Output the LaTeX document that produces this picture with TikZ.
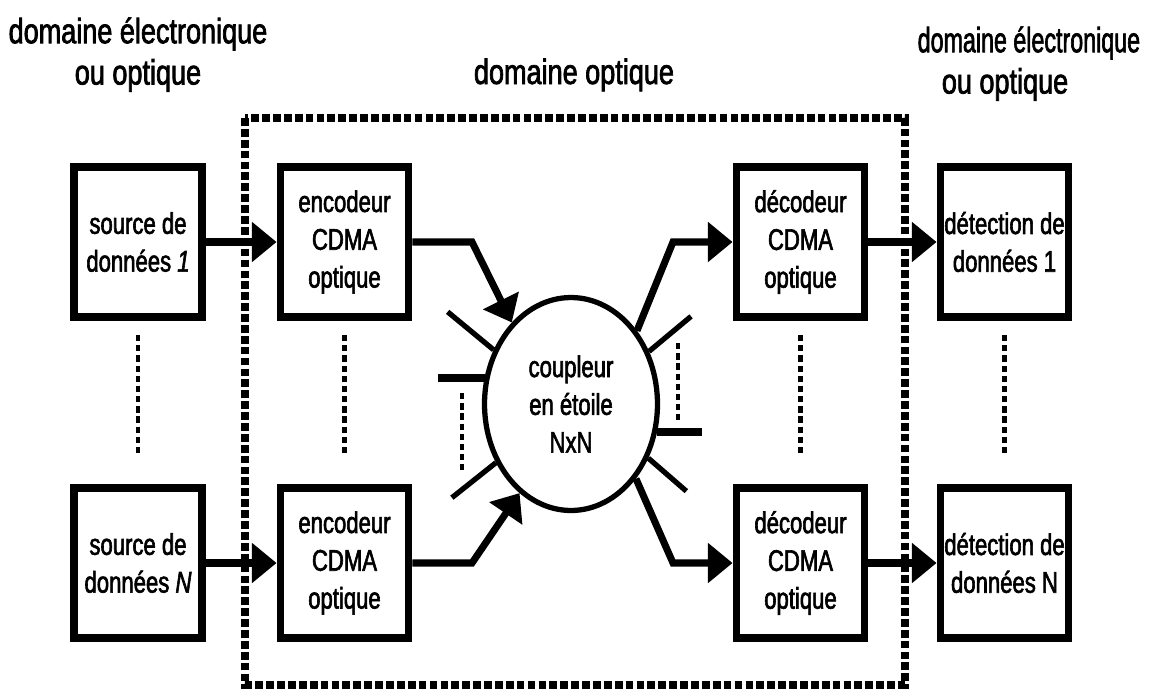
\documentclass[tikz,border=0pt]{standalone}
\usepackage{fontspec}
\usepackage{graphicx}
\setmainfont{Liberation Sans}[FakeStretch=0.74,FakeBold=2]
\newfontfamily\ttlfont{Liberation Sans}[FakeStretch=0.77,FakeBold=2]
\usetikzlibrary{arrows.meta,shapes.geometric}
\newcommand\bxfont{\fontsize{17pt}{21.5pt}\selectfont}
\newcommand\lblfont{\ttlfont\fontsize{20pt}{23.5pt}\selectfont}
\begin{document}
\begin{tikzpicture}[x=0.02cm,y=-0.02cm,
  blk/.style={draw,line width=4.5pt,minimum width=2.56cm,minimum height=3.0cm,inner sep=0pt,align=center,font=\bxfont},
  lbl/.style={align=center,font=\lblfont,inner sep=0pt},
  arr/.style={line width=4pt,line join=miter,-{Triangle[length=14pt,width=22pt]}},
  stubthin/.style={line width=3pt},
  stubthick/.style={line width=4.5pt},
  vdots/.style={line width=2.8pt,dash pattern=on 3.6pt off 2.2pt},
  optframe/.style={line width=5pt,dash pattern=on 4.4pt off 1.8pt}]
\useasboundingbox (0,0) rectangle (1154,691);

% labels
\node[lbl,anchor=north] (lL) at (138,17) {domaine électronique\\ou optique};
\node[lbl,anchor=base] (lM) at (574,84) {domaine optique};
\node[lbl,anchor=north] (lR) at (1017,26) {\hspace*{13.6pt}\scalebox{0.86}[1]{domaine électronique}\\ou optique\hspace*{13.6pt}};

% optical domain frame
\draw[optframe] (245,118) rectangle (905,685);

% blocks
\node[blk] (src1) at (138,242) {source de\\données \textit{1}};
\node[blk] (srcN) at (138,563) {source de\\données \textit{N}};
\node[blk] (enc1) at (344.5,242) {encodeur\\CDMA\\optique};
\node[blk] (encN) at (344.5,563) {encodeur\\CDMA\\optique};
\node[blk] (dec1) at (800.5,242) {décodeur\\CDMA\\optique};
\node[blk] (decN) at (800.5,563) {décodeur\\CDMA\\optique};
\node[blk] (det1) at (1004.5,242) {détection de\\données 1};
\node[blk] (detN) at (1004.5,563) {détection de\\données N};

% coupler
\node[ellipse,draw,line width=3pt,minimum width=3.46cm,minimum height=4.26cm,inner sep=0pt,align=center,font=\bxfont] (cpl) at (571,404) {coupleur\\en étoile\\NxN};

% bends
\coordinate (b1) at (472,242);
\coordinate (b2) at (472,563);
\coordinate (b3) at (673,242);
\coordinate (b4) at (673,563);

% connectors
\draw[arr] (src1) -- (enc1);
\draw[arr] (srcN) -- (encN);
\draw[arr] (dec1) -- (det1);
\draw[arr] (decN) -- (detN);
\draw[arr] (enc1.east) -- (b1) -- (cpl.126);
\draw[arr] (encN.east) -- (b2) -- (cpl.240);
\draw[arr] (cpl.48) -- (b3) -- (dec1.west);
\draw[arr] (cpl.311) -- (b4) -- (decN.west);

% stubs
\draw[stubthin] (cpl.145) -- +(-46,-38);
\draw[stubthick] (cpl.163) -- +(-47,0);
\draw[stubthin] (cpl.218) -- +(-44,35);
\draw[stubthin] (cpl.34) -- +(42,-35);
\draw[stubthick] (cpl.342) -- +(45,0);
\draw[stubthin] (cpl.325) -- +(38,33);
\draw[vdots] (462,393) -- (462,470);
\draw[vdots] (678,343) -- (678,420);

% vertical dots between blocks
\draw[vdots] ([yshift=-0.28cm]src1.south) -- ([yshift=0.55cm]srcN.north);
\draw[vdots] ([yshift=-0.28cm]enc1.south) -- ([yshift=0.55cm]encN.north);
\draw[vdots] ([yshift=-0.28cm]dec1.south) -- ([yshift=0.55cm]decN.north);
\draw[vdots] ([yshift=-0.28cm]det1.south) -- ([yshift=0.55cm]detN.north);
\end{tikzpicture}
\end{document}
